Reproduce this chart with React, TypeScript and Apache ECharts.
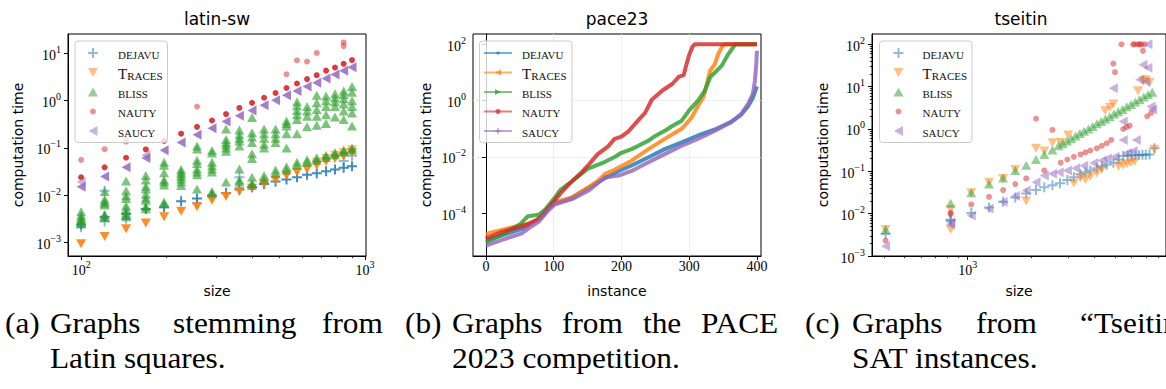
import React, { useEffect, useRef } from 'react';
import * as echarts from 'echarts';

const SERIF = '"Liberation Serif", "Times New Roman", serif';
const SANS = '"DejaVu Sans", sans-serif';

const solverColors = ['#1f77b4', '#ff7f0e', '#2ca02c', '#d62728', '#9467bd'];
const legendLabels = ['{s|DEJAVU}', '{b|T}{s|RACES}', '{s|BLISS}', '{s|NAUTY}', '{s|SAUCY}'];

// ---------------- latin-sw ----------------
const latinSizes = [100, 121, 144, 169, 196, 225, 256, 289, 324, 361, 400, 441, 484, 529, 576, 625, 676, 729, 784, 841, 900];
const latinDejavu = [0.0024, 0.0035, 0.004, 0.0051, 0.0056, 0.0075, 0.0085, 0.0098, 0.0112, 0.0132, 0.0148, 0.0172, 0.0195, 0.0215, 0.024, 0.027, 0.029, 0.032, 0.035, 0.038, 0.041];
const latinDejavuExtra: number[][] = [[100, 0.0021], [121, 0.0028], [121, 0.0125], [144, 0.0032], [256, 0.0068], [361, 0.024], [841, 0.053], [900, 0.068]];
const latinTraces = [0.00094, 0.00135, 0.00196, 0.0026, 0.0035, 0.0046, 0.0057, 0.0078, 0.0094, 0.012, 0.014, 0.017, 0.021, 0.026, 0.031, 0.036, 0.043, 0.052, 0.059, 0.067, 0.079];
const latinTracesExtra: number[][] = [[676, 0.05], [729, 0.06], [784, 0.07], [841, 0.08], [900, 0.092]];
const latinBliss: number[][] = [
  [0.0025, 0.0027, 0.0029, 0.0031, 0.0034, 0.0038, 0.0045],
  [0.0034, 0.0036, 0.0039, 0.0062, 0.0068, 0.0074, 0.0082, 0.012],
  [0.0035, 0.0038, 0.0042, 0.0052, 0.006, 0.0085, 0.0098, 0.0125, 0.02],
  [0.0052, 0.0058, 0.0078, 0.0088, 0.0105, 0.0135, 0.0155, 0.021, 0.026],
  [0.0066, 0.0072, 0.0165, 0.019, 0.021, 0.03, 0.043, 0.05],
  [0.016, 0.019, 0.022, 0.025, 0.028, 0.031, 0.035],
  [0.0135, 0.027, 0.031, 0.036, 0.047, 0.055, 0.095, 0.11],
  [0.011, 0.012, 0.031, 0.036, 0.042, 0.05, 0.078, 0.088],
  [0.019, 0.085, 0.1, 0.115, 0.13, 0.15, 0.25],
  [0.019, 0.021, 0.036, 0.11, 0.14, 0.16, 0.19, 0.24],
  [0.016, 0.018, 0.024, 0.06, 0.075, 0.13, 0.17, 0.21, 0.44],
  [0.022, 0.026, 0.1, 0.12, 0.16, 0.2, 0.25],
  [0.029, 0.034, 0.13, 0.16, 0.2, 0.25],
  [0.034, 0.04, 0.1, 0.2, 0.29, 0.33, 0.37],
  [0.043, 0.05, 0.2, 0.4, 0.5, 0.62, 0.78, 0.95],
  [0.05, 0.056, 0.28, 0.47, 0.6, 0.75],
  [0.055, 0.062, 0.3, 0.47, 0.65, 0.9, 1.3],
  [0.063, 0.07, 0.33, 0.5, 0.75, 1.0, 1.25],
  [0.072, 0.08, 0.45, 0.75, 0.95, 1.15, 1.4],
  [0.082, 0.09, 0.4, 0.6, 0.85, 1.1, 1.35, 1.6],
  [0.09, 0.1, 0.29, 0.55, 0.75, 1.0, 1.5, 2.0],
];
const latinNauty = [0.024, 0.039, 0.062, 0.093, 0.14, 0.2, 0.28, 0.38, 0.52, 0.7, 0.9, 1.15, 1.45, 1.85, 2.3, 2.85, 3.45, 4.3, 5.0, 6.0, 7.2];
const latinNautyExtra: number[][] = [[100, 0.056], [121, 0.094], [144, 0.155], [144, 0.135], [256, 0.75], [529, 3.6], [576, 7.1], [625, 6.7], [676, 10.2], [841, 17], [841, 14.2]];
const latinSaucy = [0.0152, 0.025, 0.039, 0.061, 0.089, 0.13, 0.19, 0.26, 0.36, 0.48, 0.62, 0.8, 1.02, 1.3, 1.6, 2.0, 2.4, 2.95, 3.55, 4.3, 5.1];
const latinSaucyExtra: number[][] = [[100, 0.019], [169, 0.07]];
const latinMajorX = [100, 1000];
const latinMinorX = [200, 300, 400, 500, 600, 700, 800, 900];
const latinMajorY = [0.001, 0.01, 0.1, 1, 10];

// ---------------- pace23 ----------------
const paceDejavu: number[][] = [[0, 1.12e-5], [28, 1.78e-5], [53, 2.8e-5], [78, 6.3e-5], [92, 1.58e-4], [102, 2.24e-4], [127, 3.5e-4], [151, 7.9e-4], [176, 1.78e-3], [196, 3.2e-3], [215, 5.0e-3], [240, 9.8e-3], [264, 0.019], [289, 0.033], [313, 0.058], [338, 0.095], [362, 0.178], [377, 0.32], [387, 0.63], [394, 1.26], [400, 3.2]];
const paceTraces: number[][] = [[0, 1.86e-5], [28, 2.75e-5], [53, 3.9e-5], [65, 4.3e-5], [78, 6.3e-5], [92, 1.78e-4], [102, 2.45e-4], [127, 3.7e-4], [151, 8.3e-4], [165, 1.4e-3], [176, 2.5e-3], [190, 3.5e-3], [215, 7.4e-3], [240, 0.019], [264, 0.044], [289, 0.1], [304, 0.257], [313, 0.66], [321, 1.32], [326, 3.9], [331, 11.5], [338, 20], [343, 46], [348, 78], [351, 100], [400, 100]];
const paceBliss: number[][] = [[0, 9.3e-6], [25, 1.78e-5], [50, 4.0e-5], [62, 7.9e-5], [78, 8.9e-5], [88, 1.38e-4], [100, 3.2e-4], [110, 6.8e-4], [125, 1.26e-3], [150, 3.8e-3], [175, 6.6e-3], [190, 0.01], [200, 0.0141], [215, 0.019], [225, 0.025], [240, 0.038], [250, 0.056], [264, 0.085], [275, 0.126], [289, 0.195], [300, 0.45], [313, 1.0], [323, 2.24], [331, 6.8], [338, 10], [348, 17.4], [358, 46], [368, 100], [400, 100]];
const paceNauty: number[][] = [[0, 1.29e-5], [25, 2.24e-5], [50, 3.3e-5], [60, 4.0e-5], [75, 5.75e-5], [85, 8.7e-5], [100, 2.57e-4], [110, 5.1e-4], [125, 1.23e-3], [140, 2.63e-3], [150, 4.8e-3], [165, 0.0126], [180, 0.0234], [190, 0.0437], [200, 0.0525], [210, 0.079], [225, 0.204], [235, 0.37], [245, 1.1], [250, 1.38], [260, 2.24], [275, 3.9], [285, 7.1], [292, 8.1], [295, 15.8], [300, 41.7], [305, 83], [308, 100], [400, 100]];
const paceSaucy: number[][] = [[0, 7.1e-6], [28, 1.23e-5], [53, 1.95e-5], [65, 3.2e-5], [78, 5.0e-5], [92, 1.26e-4], [102, 2.1e-4], [127, 3.2e-4], [151, 6.3e-4], [176, 1.9e-3], [196, 2.2e-3], [215, 3.2e-3], [240, 6.5e-3], [264, 0.0126], [289, 0.025], [313, 0.044], [338, 0.085], [362, 0.17], [377, 0.34], [387, 0.76], [394, 1.74], [397, 5.0], [399, 20], [400, 59]];
const paceTicksX = [0, 100, 200, 300, 400];
const paceMajorY = [1e-4, 1e-2, 1, 100];

// ---------------- tseitin ----------------
const tseitinDejavu: number[][] = [[408, 0.0033], [830, 0.0072], [830, 0.0068], [1040, 0.0103], [1263, 0.014], [1473, 0.019], [1682, 0.024], [1895, 0.03], [2110, 0.036], [2310, 0.042], [2525, 0.047], [2742, 0.052], [2972, 0.062], [3190, 0.072], [3430, 0.085], [3620, 0.095], [3820, 0.105], [4100, 0.118], [4330, 0.13], [4570, 0.142], [4910, 0.16], [5200, 0.19], [5470, 0.23], [5750, 0.235], [6000, 0.24], [6250, 0.24], [6500, 0.24], [6750, 0.245], [7000, 0.245], [7290, 0.25], [7690, 0.35]];
const tseitinTraces: number[][] = [[408, 0.0042], [830, 0.0042], [830, 0.0125], [1040, 0.031], [1263, 0.055], [1473, 0.068], [1682, 0.11], [1895, 0.02], [2110, 0.35], [2310, 0.3], [2525, 0.47], [2763, 0.48], [3000, 0.72], [3190, 0.052], [3430, 0.07], [3620, 0.063], [3820, 0.075], [4100, 0.09], [4330, 0.11], [4490, 2.7], [4735, 3.2], [4910, 3.9], [5200, 0.13], [5470, 0.14], [5700, 0.15], [5950, 0.16], [6200, 0.17], [6430, 8.0], [6790, 13.5], [6985, 14.5], [7290, 12.5], [7690, 0.33]];
const tseitinBliss: number[][] = [[408, 0.0042], [830, 0.0175], [1040, 0.031], [1263, 0.05], [1473, 0.07], [1682, 0.105], [1895, 0.14], [2110, 0.19], [2310, 0.25], [2525, 0.32], [2697, 0.4], [2826, 0.45], [2960, 0.52], [3100, 0.59], [3250, 0.68], [3405, 0.78], [3567, 0.88], [3738, 1.0], [3916, 1.15], [4103, 1.32], [4298, 1.5], [4503, 1.72], [4718, 1.95], [4943, 2.25], [5178, 2.55], [5425, 2.9], [5684, 3.35], [5955, 3.8], [6239, 4.35], [6536, 5.0], [6848, 5.7], [7174, 6.5], [7516, 7.4]];
const tseitinNauty: number[][] = [[408, 0.0023], [830, 0.0105], [830, 0.0098], [1040, 0.0165], [1263, 0.025], [1473, 0.036], [1682, 0.05], [1895, 0.068], [2110, 1.75], [2310, 0.105], [2525, 0.95], [2763, 0.16], [2972, 0.19], [3190, 0.22], [3430, 0.25], [3620, 0.28], [3820, 0.31], [4100, 0.35], [4330, 0.4], [4570, 0.46], [4800, 0.55], [4910, 35], [5000, 22], [5370, 100], [5470, 1.0], [5665, 1.1], [5870, 1.2], [6095, 100], [6200, 100], [6430, 100], [6546, 100], [6670, 100], [6790, 70], [6910, 100], [7110, 2.0], [7420, 2.4]];
const tseitinSaucy: number[][] = [[408, 0.0017], [830, 0.0055], [830, 0.0062], [1040, 0.009], [1263, 0.0133], [1473, 0.019], [1682, 0.026], [1895, 0.035], [2110, 0.055], [2310, 0.08], [2525, 0.088], [2717, 0.095], [2972, 0.105], [3252, 0.118], [3557, 0.136], [3962, 0.157], [4335, 0.18], [4600, 0.2], [4911, 9.2], [5000, 0.22], [5468, 1.5], [5468, 0.55], [5700, 0.27], [6093, 0.3], [6310, 0.55], [6546, 14.5], [6790, 33], [7000, 13], [7165, 28], [7165, 100], [7415, 3.4], [7550, 2.9]];
const tseitinMajorX = [1000];
const tseitinMinorX = [400, 500, 600, 700, 800, 900, 2000, 3000, 4000, 5000, 6000, 7000, 8000];
const tseitinMajorY = [0.001, 0.01, 0.1, 1, 10, 100];
const tseitinMinorY = [0.002, 0.003, 0.004, 0.005, 0.006, 0.007, 0.008, 0.009, 0.02, 0.03, 0.04, 0.05, 0.06, 0.07, 0.08, 0.09, 0.2, 0.3, 0.4, 0.5, 0.6, 0.7, 0.8, 0.9, 2, 3, 4, 5, 6, 7, 8, 9, 20, 30, 40, 50, 60, 70, 80, 90];

// ---------------- captions ----------------
const captionLine1 = [
  ['(a)', 5], ['Graphs', 50], ['stemming', 173], ['from', 322],
  ['(b)', 405], ['Graphs', 452], ['from', 562], ['the', 643], ['PACE', 701],
  ['(c)', 805], ['Graphs', 852], ['from', 976], ['\u201cTseitin', 1080],
];
const captionLine2 = [['Latin squares.', 50], ['2023 competition.', 452], ['SAT instances.', 852]];

const PLUS = 'path://M4,0L6,0L6,4L10,4L10,6L6,6L6,10L4,10L4,6L0,6L0,4L4,4Z';

const sup = (v: number): string => {
  const e = Math.round(Math.log10(v));
  return '{b|10}{s|' + (e < 0 ? '\u2212' + String(-e) : String(e)) + '}';
};
const tickRich = {
  b: { fontFamily: SERIF, fontSize: 14, color: '#000', lineHeight: 18, verticalAlign: 'bottom' },
  s: { fontFamily: SERIF, fontSize: 10, color: '#000', lineHeight: 10, verticalAlign: 'top' },
};
const legendRich = {
  s: { fontFamily: SERIF, fontSize: 11, fill: '#111', lineHeight: 14, verticalAlign: 'bottom' },
  b: { fontFamily: SERIF, fontSize: 15, fill: '#111', lineHeight: 17, verticalAlign: 'bottom' },
};

const black = { color: '#000', width: 1 };
const nameStyle = { fontFamily: SANS, fontSize: 14, color: '#000' };

function logAxis(grid: number, min: number, max: number, major: number[], extra: any) {
  return {
    type: 'log', gridIndex: grid, min, max,
    axisLine: { show: true, lineStyle: black },
    axisTick: { show: true, customValues: major, length: 4, lineStyle: black },
    axisLabel: { customValues: major, formatter: sup, rich: tickRich, color: '#000' },
    splitLine: { show: false },
    minorTick: { show: false },
    ...extra,
  };
}
function minorAxis(grid: number, min: number, max: number, vals: number[], position: string) {
  return {
    type: 'log', gridIndex: grid, min, max, position,
    axisLine: { show: false },
    axisTick: { show: true, customValues: vals, length: 2.2, lineStyle: { color: '#000', width: 0.8 } },
    axisLabel: { show: false },
    splitLine: { show: false },
  };
}

const symbols: any[] = [PLUS, 'triangle', 'triangle', 'circle', 'triangle'];
const rotations = [0, 180, 0, 0, 90];
const sizes: any[] = [10, [10, 9], [10, 9], 6, [10, 9]];

function scatter(solver: number, data: number[][], xi: number, yi: number, opacity: number) {
  return {
    type: 'scatter', xAxisIndex: xi, yAxisIndex: yi, data,
    symbol: symbols[solver], symbolRotate: rotations[solver], symbolSize: sizes[solver],
    itemStyle: { color: solverColors[solver], opacity },
    silent: true,
  };
}
const pair = (xs: number[], ys: number[]) => xs.map((x, i) => [x, ys[i]]);

function markerEl(i: number, cx: number, cy: number) {
  const style = { fill: solverColors[i], opacity: 0.5 };
  if (i === 3) return { type: 'circle', shape: { cx, cy, r: 3 }, style, z: 101 };
  let pts: number[][];
  if (i === 0) pts = [[cx - 1, cy - 5], [cx + 1, cy - 5], [cx + 1, cy - 1], [cx + 5, cy - 1], [cx + 5, cy + 1], [cx + 1, cy + 1], [cx + 1, cy + 5], [cx - 1, cy + 5], [cx - 1, cy + 1], [cx - 5, cy + 1], [cx - 5, cy - 1], [cx - 1, cy - 1]];
  else if (i === 1) pts = [[cx - 5, cy - 4.5], [cx + 5, cy - 4.5], [cx, cy + 4.5]];
  else if (i === 2) pts = [[cx - 5, cy + 4.5], [cx + 5, cy + 4.5], [cx, cy - 4.5]];
  else pts = [[cx + 4.5, cy - 5], [cx + 4.5, cy + 5], [cx - 4.5, cy]];
  return { type: 'polygon', shape: { points: pts }, style, z: 101 };
}
function lineMarkerEl(i: number, cx: number, cy: number) {
  const style = { fill: solverColors[i], opacity: 0.7 };
  if (i === 0) return { type: 'circle', shape: { cx, cy, r: 1.6 }, style, z: 101 };
  if (i === 3) return { type: 'circle', shape: { cx, cy, r: 2.6 }, style, z: 101 };
  let pts: number[][];
  if (i === 1) pts = [[cx + 3, cy - 3], [cx + 3, cy + 3], [cx - 3, cy]];
  else if (i === 2) pts = [[cx - 3, cy - 3], [cx - 3, cy + 3], [cx + 3, cy]];
  else pts = [[cx - 0.7, cy - 3], [cx + 0.7, cy - 3], [cx + 0.7, cy - 0.7], [cx + 3, cy - 0.7], [cx + 3, cy + 0.7], [cx + 0.7, cy + 0.7], [cx + 0.7, cy + 3], [cx - 0.7, cy + 3], [cx - 0.7, cy + 0.7], [cx - 3, cy + 0.7], [cx - 3, cy - 0.7], [cx - 0.7, cy - 0.7]];
  return { type: 'polygon', shape: { points: pts }, style, z: 101 };
}

const legendRows = [53, 72.5, 92, 111.5, 131];

function legend(boxX: number, markX: number, textX: number, lines: boolean) {
  const els: any[] = [{
    type: 'rect', shape: { x: boxX, y: 41, width: 92.5, height: 101.5, r: 3 },
    style: { fill: 'rgba(255,255,255,0.8)', stroke: '#cccccc', lineWidth: 1 }, z: 100,
  }];
  legendRows.forEach((y, i) => {
    if (lines) {
      els.push({ type: 'line', shape: { x1: markX - 14, y1: y, x2: markX + 14, y2: y }, style: { stroke: solverColors[i], lineWidth: 2, opacity: 0.6 }, z: 101 });
      els.push(lineMarkerEl(i, markX, y));
    } else {
      els.push(markerEl(i, markX, y));
    }
    els.push({ type: 'text', x: textX, y, style: { text: legendLabels[i], rich: legendRich, verticalAlign: 'middle', align: 'left' }, z: 101 });
  });
  return els;
}

function titleEl(text: string, x: number) {
  return { type: 'text', x, y: 19, style: { text, fontFamily: SANS, fontSize: 17, fill: '#000', align: 'center', verticalAlign: 'middle' }, z: 101 };
}

function captionEl(text: string, x: number, y: number) {
  return { type: 'text', x, y, scaleX: 1.08, style: { text, fontFamily: SERIF, fontSize: 29, fill: '#000', align: 'left', verticalAlign: 'middle' } };
}

function buildOption(): any {
  const latinBlissData: number[][] = [];
  latinBliss.forEach((vals, i) => vals.forEach((v) => latinBlissData.push([latinSizes[i], v])));

  const graphics: any[] = [
    titleEl('latin-sw', 217), titleEl('pace23', 617), titleEl('tseitin', 1021),
    ...legend(75, 93, 118, false),
    ...legend(479.5, 498, 522, true),
    ...legend(879.5, 898.5, 922.5, false),
  ];
  captionLine1.forEach(([t, x]) => graphics.push(captionEl(t as string, x as number, 323)));
  captionLine2.forEach(([t, x]) => graphics.push(captionEl(t as string, x as number, 358)));

  const gridBase = { show: true, borderColor: '#000', borderWidth: 1, backgroundColor: 'transparent', containLabel: false };

  const paceSeries = [paceDejavu, paceTraces, paceBliss, paceNauty, paceSaucy].map((d, i) => ({
    type: 'line', xAxisIndex: 2, yAxisIndex: 1, data: d, showSymbol: false, symbol: 'none',
    lineStyle: { color: solverColors[i], width: 4, opacity: 0.82 }, itemStyle: { color: solverColors[i] }, silent: true,
  }));

  return {
    animation: false,
    backgroundColor: '#fff',
    grid: [
      { ...gridBase, left: 68, top: 34, width: 298, height: 222 },
      { ...gridBase, left: 473, top: 34, width: 288, height: 222 },
      { ...gridBase, left: 872, top: 34, width: 298, height: 222 },
    ],
    xAxis: [
      logAxis(0, 89.9, 1008, latinMajorX, { axisLabel: { customValues: latinMajorX, formatter: sup, rich: tickRich, margin: 3 }, name: 'size', nameLocation: 'middle', nameGap: 28, nameTextStyle: nameStyle }),
      minorAxis(0, 89.9, 1008, latinMinorX, 'bottom'),
      {
        type: 'value', gridIndex: 1, min: -19, max: 406,
        axisLine: { show: true, lineStyle: black },
        axisTick: { show: true, customValues: paceTicksX, length: 4, lineStyle: black },
        axisLabel: { customValues: paceTicksX, fontFamily: SERIF, fontSize: 14, color: '#000', margin: 3 },
        splitLine: { show: true, showMinLine: false, showMaxLine: false, lineStyle: { color: '#ebebeb', width: 0.8 } },
        name: 'instance', nameLocation: 'middle', nameGap: 28, nameTextStyle: nameStyle,
      },
      logAxis(2, 351.6, 8730, tseitinMajorX, { axisLabel: { customValues: tseitinMajorX, formatter: sup, rich: tickRich, margin: 3 }, name: 'size', nameLocation: 'middle', nameGap: 28, nameTextStyle: nameStyle }),
      minorAxis(2, 351.6, 8730, tseitinMinorX, 'bottom'),
    ],
    yAxis: [
      logAxis(0, 0.00052, 25.6, latinMajorY, { axisLabel: { customValues: latinMajorY, formatter: sup, rich: tickRich, margin: 7 }, name: 'computation time', nameLocation: 'middle', nameGap: 43, nameRotate: 90, nameTextStyle: nameStyle }),
      logAxis(1, 3.06e-6, 232, paceMajorY, {
        logBase: 100,
        axisLabel: { customValues: paceMajorY, formatter: sup, rich: tickRich, margin: 7 },
        splitLine: { show: true, showMinLine: false, showMaxLine: false, lineStyle: { color: '#ebebeb', width: 0.8 } },
        name: 'computation time', nameLocation: 'middle', nameGap: 40, nameRotate: 90, nameTextStyle: nameStyle,
      }),
      logAxis(2, 0.001, 175, tseitinMajorY, { axisLabel: { customValues: tseitinMajorY, formatter: sup, rich: tickRich, margin: 7 }, name: 'computation time', nameLocation: 'middle', nameGap: 42, nameRotate: 90, nameTextStyle: nameStyle }),
      minorAxis(2, 0.001, 175, tseitinMinorY, 'left'),
    ],
    series: [
      scatter(0, pair(latinSizes, latinDejavu), 0, 0, 0.85),
      scatter(0, latinDejavuExtra, 0, 0, 0.5),
      scatter(1, pair(latinSizes, latinTraces), 0, 0, 0.9),
      scatter(1, latinTracesExtra, 0, 0, 0.5),
      scatter(2, latinBlissData, 0, 0, 0.62),
      scatter(3, pair(latinSizes, latinNauty), 0, 0, 0.9),
      scatter(3, latinNautyExtra, 0, 0, 0.5),
      scatter(4, pair(latinSizes, latinSaucy), 0, 0, 0.85),
      scatter(4, latinSaucyExtra, 0, 0, 0.5),
      ...paceSeries,
      scatter(0, tseitinDejavu, 3, 2, 0.5),
      scatter(1, tseitinTraces, 3, 2, 0.5),
      scatter(2, tseitinBliss, 3, 2, 0.5),
      scatter(3, tseitinNauty, 3, 2, 0.5),
      scatter(4, tseitinSaucy, 3, 2, 0.5),
    ],
    graphic: { elements: graphics },
  };
}

export default function App() {
  const ref = useRef<HTMLDivElement>(null);
  useEffect(() => {
    if (!ref.current) return;
    const chart = echarts.init(ref.current, undefined, { renderer: 'svg' });
    chart.setOption(buildOption());
    return () => chart.dispose();
  }, []);
  return <div ref={ref} style={{ position: 'fixed', left: 0, top: 0, width: 1166, height: 389, background: '#fff' }} />;
}
